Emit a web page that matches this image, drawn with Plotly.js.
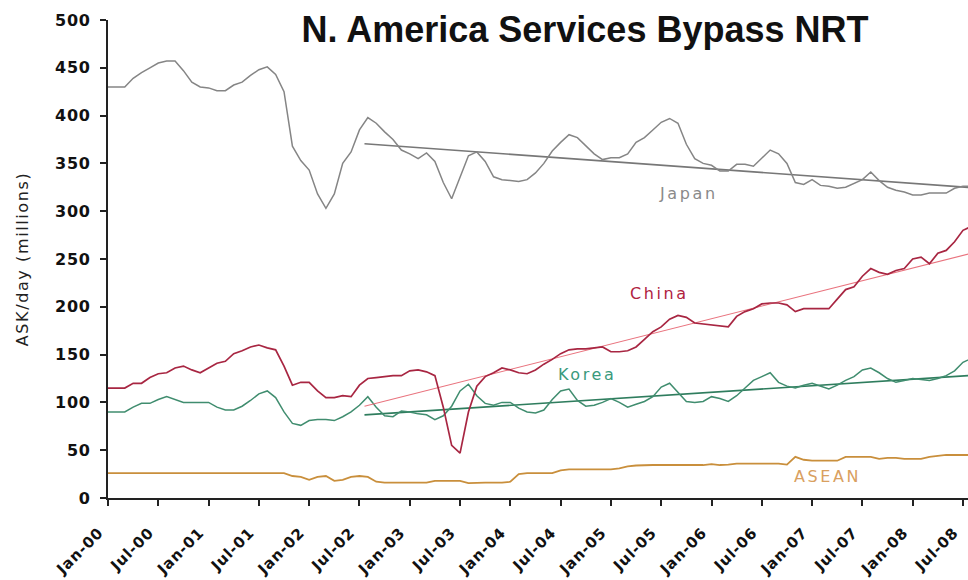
<!DOCTYPE html>
<html>
<head>
<meta charset="utf-8">
<script src="https://cdn.plot.ly/plotly-3.0.1.min.js"></script>
<style>
  html, body { margin: 0; padding: 0; background: #fff; }
  #chart { width: 968px; height: 580px; }
  .ytitle { letter-spacing: 1.6px; }
  .annotation-text { letter-spacing: 2.6px; }
  .xtick text, .ytick text { letter-spacing: 0.8px; }
</style>
</head>
<body>
<div id="chart"></div>
<script>
// Monthly values, Jan-00 .. Aug-08 (ASK/day, millions)
const tickLabels = ["Jan-00","Jul-00","Jan-01","Jul-01","Jan-02","Jul-02","Jan-03","Jul-03","Jan-04","Jul-04","Jan-05","Jul-05","Jan-06","Jul-06","Jan-07","Jul-07","Jan-08","Jul-08"];

const japan = [430,430,430,439,445,450,455,457,457,447,435,430,429,426,426,432,435,442,448,451,
  443,425,368,353,343,318,303,318,350,362,385,398,392,383,375,364,360,355,361,352,
  330,313,335,358,362,352,336,333,332,331,333,340,350,363,372,380,377,369,360,354,
  356,356,360,372,377,385,393,397,392,370,355,350,348,342,342,349,349,347,356,364,
  360,350,330,328,333,327,326,324,325,329,333,341,332,325,322,320,317,317,319,319,
  319,324,326,326];

const china = [115,115,115,120,120,126,130,131,136,138,134,131,136,141,143,151,154,158,160,157,
  155,138,118,121,121,112,105,105,107,106,118,125,126,127,128,128,133,134,132,128,
  95,55,47,90,117,127,131,136,134,131,130,134,140,145,151,155,156,156,157,158,
  153,153,154,158,166,174,179,187,191,189,183,182,181,180,179,190,195,198,203,204,
  204,202,195,198,198,198,198,208,218,221,232,240,236,234,238,240,250,252,245,256,
  259,268,280,284];

const korea = [90,90,90,95,99,99,103,106,103,100,100,100,100,95,92,92,96,102,109,112,
  105,90,78,76,81,82,82,81,85,90,97,106,95,86,85,91,90,88,87,82,
  86,96,112,119,107,99,97,100,100,94,90,89,92,103,112,114,102,96,97,100,
  104,100,95,98,101,106,116,120,110,101,100,101,106,104,101,107,115,123,127,131,
  121,117,115,118,120,117,114,118,123,127,134,136,131,125,121,123,125,124,123,125,
  128,133,142,146];

const asean = [26,26,26,26,26,26,26,26,26,26,26,26,26,26,26,26,26,26,26,26,
  26,26,23,22,19,22,23,18,19,22,23,22,17,16,16,16,16,16,16,18,
  18,18,18,15.5,16,16,16,16,17,25,26,26,26,26,29,30,30,30,30,30,
  30,31,33,34,34.5,34.5,34.5,34.5,34.5,34.5,34.5,34.5,35.5,34.5,35,36,36,36,36,36,
  36,35,43,40,39,39,39,39,43,43,43,43,41,42,42,41,41,41,43,44,
  45,45,45,45];

// Linear trend lines (from Jul-02), end values
const trendMonths = [30.6, 103];
const japanTrend = [370.5, 324.7];
const chinaTrend = [96, 256];
const koreaTrend = [87, 128.2];

const months = japan.map((_, i) => i);
const tickVals = tickLabels.map((_, k) => 6 * k);

const line = (y, color, width) => ({
  x: months, y: y, type: 'scatter', mode: 'lines',
  line: { color: color, width: width }, hoverinfo: 'skip', showlegend: false
});
const trend = (y, color, width) => ({
  x: trendMonths, y: y, type: 'scatter', mode: 'lines',
  line: { color: color, width: width }, hoverinfo: 'skip', showlegend: false
});

const data = [
  line(asean, '#c98f3c', 1.8),
  trend(koreaTrend, '#2f7d5e', 1.6),
  line(korea, '#408d6f', 1.5),
  trend(chinaTrend, '#e9737e', 1.1),
  line(china, '#a82642', 1.7),
  trend(japanTrend, '#777777', 1.6),
  line(japan, '#858585', 1.5)
];

const labelFont = (c) => ({ family: 'DejaVu Sans, Verdana, sans-serif', size: 16, color: c });
const tickFamily = 'DejaVu Sans, Verdana, sans-serif';

const layout = {
  width: 968, height: 580,
  paper_bgcolor: '#ffffff', plot_bgcolor: '#ffffff',
  margin: { l: 108, r: 0, t: 20, b: 82 },
  title: {
    text: 'N. America Services Bypass NRT',
    font: { family: 'Liberation Sans, Arial, sans-serif', size: 36, color: '#111', weight: 'bold' },
    xref: 'container', x: 585 / 968, xanchor: 'center',
    yref: 'container', y: 1 - 29 / 580, yanchor: 'middle'
  },
  xaxis: {
    range: [0, 102.6], tickmode: 'array', tickvals: tickVals, ticktext: tickLabels,
    tickangle: -45, ticks: 'outside', ticklen: 6, tickwidth: 2, tickcolor: '#222',
    showline: true, linecolor: '#222', linewidth: 2, showgrid: false, zeroline: false,
    tickfont: { family: tickFamily, size: 15, color: '#111', weight: 'bold' },
    ticklabelstandoff: 12, ticklabelshift: -9, ticklabeloverflow: 'allow'
  },
  yaxis: {
    range: [0, 500], dtick: 50, ticks: 'outside', ticklen: 6, tickwidth: 2, tickcolor: '#222',
    showline: true, linecolor: '#222', linewidth: 2, showgrid: false, zeroline: false,
    tickfont: { family: tickFamily, size: 16, color: '#111', weight: 'bold' },
    ticklabelstandoff: 6,
    title: { text: 'ASK/day (millions)', font: { family: tickFamily, size: 16, color: '#222' }, standoff: 22 }
  },
  annotations: [
    { x: 69.3, y: 319, xref: 'x', yref: 'y', text: 'Japan', showarrow: false, font: labelFont('#8a8a8a') },
    { x: 65.8, y: 214, xref: 'x', yref: 'y', text: 'China', showarrow: false, font: labelFont('#b0233f') },
    { x: 57.2, y: 129, xref: 'x', yref: 'y', text: 'Korea', showarrow: false, font: labelFont('#3a9a7c') },
    { x: 85.8, y: 22, xref: 'x', yref: 'y', text: 'ASEAN', showarrow: false, font: labelFont('#d9a060') }
  ]
};

Plotly.newPlot('chart', data, layout, { staticPlot: true, displayModeBar: false });
</script>
</body>
</html>
